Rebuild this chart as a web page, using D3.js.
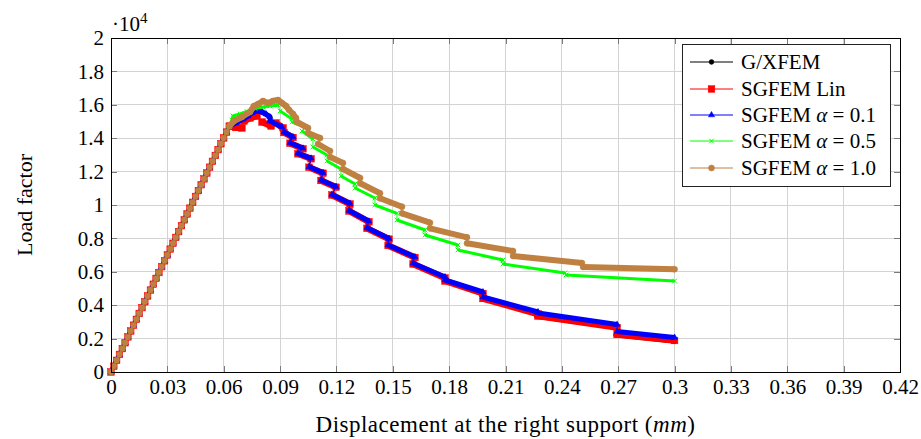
<!DOCTYPE html>
<html><head><meta charset="utf-8">
<script src="https://cdn.jsdelivr.net/npm/d3@7"></script>
<style>
body{margin:0;background:#fff}
text{font-family:"Liberation Serif","Times New Roman",serif;fill:#000}
</style>
</head><body>
<svg id="chart" width="921" height="439"></svg>
<script>
// ---------- data ----------
const xTicks = [0,0.03,0.06,0.09,0.12,0.15,0.18,0.21,0.24,0.27,0.3,0.33,0.36,0.39,0.42];
const xTickLabels = ["0","0.03","0.06","0.09","0.12","0.15","0.18","0.21","0.24","0.27","0.3","0.33","0.36","0.39","0.42"];
const yTicks = [0,2000,4000,6000,8000,10000,12000,14000,16000,18000,20000];
const yTickLabels = ["0","0.2","0.4","0.6","0.8","1","1.2","1.4","1.6","1.8","2"];
const seriesNames = ["G/XFEM","SGFEM Lin","SGFEM α = 0.1","SGFEM α = 0.5","SGFEM α = 1.0"];

// shared elastic branch (displacement mm, load)
const elastic = [[0,0],[0.0015,350],[0.003,701],[0.0045,1051],[0.006,1402],[0.0075,1752],[0.009,2102],
 [0.0105,2453],[0.012,2803],[0.0135,3154],[0.015,3504],[0.0165,3854],[0.018,4205],[0.0195,4555],
 [0.021,4906],[0.0225,5256],[0.024,5606],[0.0255,5957],[0.027,6307],[0.0285,6658],[0.03,7008],
 [0.0315,7358],[0.033,7709],[0.0345,8059],[0.036,8410],[0.0375,8760],[0.039,9110],[0.0405,9461],
 [0.042,9811],[0.0435,10162],[0.045,10512],[0.0465,10862],[0.048,11213],[0.0495,11563],[0.051,11914],
 [0.0525,12264],[0.054,12614],[0.0555,12965],[0.057,13315],[0.0585,13666],[0.06,14016],[0.0615,14366],[0.063,14717]];

// softening branches: lists of dense marker runs (segments)
const gxfem = [
 [[0.063,14717],[0.0665,14950],[0.0703,15180],[0.0740,15450],[0.0772,15689],[0.0804,15570],[0.0846,15270]],
 [[0.0846,15030],[0.0910,14671]],
 [[0.0921,14371],[0.0969,14072]],
 [[0.0953,13731],[0.1022,13395]],
 [[0.0995,13096],[0.1065,12796]],
 [[0.1054,12293],[0.1129,11934]],
 [[0.1118,11497],[0.1198,11096]],
 [[0.1176,10600],[0.1272,10060]],
 [[0.1267,9640],[0.1373,8990]],
 [[0.1363,8600],[0.1480,7950]],
 [[0.1475,7570],[0.1618,6850]],
 [[0.1608,6467],[0.1778,5629]],
 [[0.1778,5449],[0.1980,4701]],
 [[0.1980,4401],[0.2273,3473]],
 [[0.2268,3323],[0.2690,2665]],
 [[0.2688,2216],[0.300,1840]]
];
const sgfemLin = [
 [[0.063,14717],[0.0665,14641],[0.0697,14611]],
 [[0.0708,15030],[0.0740,15210],[0.0777,15329]],
 [[0.0804,14970],[0.0852,14730]],
 [[0.0878,14910],[0.0916,14611]],
 [[0.0921,14340],[0.0969,14040]],
 [[0.0953,13700],[0.1022,13365]],
 [[0.0995,13066],[0.1065,12766]],
 [[0.1054,12263],[0.1129,11904]],
 [[0.1118,11467],[0.1198,11066]],
 [[0.1176,10600],[0.1272,10060]],
 [[0.1267,9640],[0.1373,8994]],
 [[0.1363,8605],[0.1480,7958]],
 [[0.1475,7575],[0.1618,6856]],
 [[0.1608,6467],[0.1778,5629]],
 [[0.1778,5449],[0.1980,4701]],
 [[0.1980,4401],[0.2273,3473]],
 [[0.2273,3353],[0.2694,2665]],
 [[0.2694,2246],[0.300,1886]]
];
const sgfem01 = [
 [[0.063,14717],[0.0665,14910],[0.0703,15150],[0.0729,15329],[0.0751,15509],[0.0777,15629],[0.0804,15569],[0.0825,15449],[0.0846,15269]],
 [[0.0846,15030],[0.0910,14671]],
 [[0.0921,14371],[0.0969,14072]],
 [[0.0953,13731],[0.1022,13395]],
 [[0.0995,13096],[0.1065,12796]],
 [[0.1054,12293],[0.1129,11934]],
 [[0.1118,11497],[0.1198,11096]],
 [[0.1176,10629],[0.1272,10090]],
 [[0.1267,9671],[0.1373,9024]],
 [[0.1363,8635],[0.1480,7988]],
 [[0.1475,7605],[0.1618,6886]],
 [[0.1608,6509],[0.1778,5689]],
 [[0.1778,5509],[0.1980,4790]],
 [[0.1980,4491],[0.2273,3593]],
 [[0.2273,3533],[0.2694,2844]],
 [[0.2694,2425],[0.300,2066]]
];
const sgfem05 = [
 [[0.063,14717],[0.0644,15090],[0.0649,15329],[0.0687,15449],[0.0724,15600],[0.0767,15780],[0.0809,15870],[0.0846,15930],[0.0889,15988]],
 [[0.0900,15629],[0.0964,15150]],
 [[0.0964,14970],[0.1033,14671]],
 [[0.1017,14431],[0.1075,13952]],
 [[0.1075,13473],[0.1150,12994]],
 [[0.1150,12635],[0.1224,12156]],
 [[0.1224,11736],[0.1299,11257]],
 [[0.1299,11018],[0.1405,10419]],
 [[0.1405,10000],[0.1522,9503]],
 [[0.1522,9102],[0.1672,8503]],
 [[0.1672,8204],[0.1847,7605]],
 [[0.1847,7305],[0.2087,6707]],
 [[0.2087,6467],[0.2417,5928]],
 [[0.2422,5808],[0.300,5449]]
];
const sgfem10 = [
 [[0.063,14717],[0.0655,15030],[0.0697,15269],[0.0740,15569],[0.0761,15928],[0.0783,16048],[0.0809,16227],[0.0836,16108],[0.0862,16227],[0.0889,16287],[0.0910,16108],[0.0932,15928],[0.0948,15689],[0.0969,15449],[0.0985,15210]],
 [[0.0990,14970],[0.1049,14611]],
 [[0.1049,14311],[0.1113,14012]],
 [[0.1102,13653],[0.1166,13233]],
 [[0.1166,12874],[0.1235,12515]],
 [[0.1235,12156],[0.1326,11617]],
 [[0.1326,11300],[0.1432,10701]],
 [[0.1432,10401],[0.1549,9898]],
 [[0.1549,9503],[0.1698,8940]],
 [[0.1698,8605],[0.1895,8066]],
 [[0.1895,7707],[0.2140,7245]],
 [[0.2140,6946],[0.2507,6527]],
 [[0.2513,6287],[0.300,6150]]
];

// ---------- layout / style ----------
const M = {left:111, right:900, top:38, bottom:372};
const FS = 21;
const styles = [
 {color:"#000000", marker:"circle", size:2.4, band:4.5},
 {color:"#ff0000", marker:"square", size:3.3, band:6.5},
 {color:"#0000ff", marker:"triangle", size:3.6, band:5},
 {color:"#00ff00", marker:"cross", size:2.3, band:3},
 {color:"#bf8040", marker:"circle", size:3, band:6}
];
const allSeries = [gxfem, sgfemLin, sgfem01, sgfem05, sgfem10];

const svg = d3.select("#chart");
const x = d3.scaleLinear().domain([0,0.42]).range([M.left, M.right]);
const y = d3.scaleLinear().domain([0,20000]).range([M.bottom, M.top]);

// grid
const grid = svg.append("g").attr("shape-rendering","crispEdges");
grid.selectAll("line.gx").data(xTicks).enter().append("line")
 .attr("x1",d=>x(d)).attr("x2",d=>x(d)).attr("y1",M.top).attr("y2",M.bottom)
 .attr("stroke","#d3d3d3").attr("stroke-width",1);
grid.selectAll("line.gy").data(yTicks).enter().append("line")
 .attr("y1",d=>y(d)).attr("y2",d=>y(d)).attr("x1",M.left).attr("x2",M.right)
 .attr("stroke","#d3d3d3").attr("stroke-width",1);

// axes with inward ticks on all sides
const tickLen = 6;
const axB = d3.axisBottom(x).tickValues(xTicks).tickSize(-tickLen).tickFormat((d,i)=>xTickLabels[i]).tickPadding(7);
const axT = d3.axisTop(x).tickValues(xTicks).tickSize(-tickLen).tickFormat("");
const axL = d3.axisLeft(y).tickValues(yTicks).tickSize(-tickLen).tickFormat((d,i)=>yTickLabels[i]).tickPadding(7);
const axR = d3.axisRight(y).tickValues(yTicks).tickSize(-tickLen).tickFormat("");
function styleAxis(g){
  g.attr("font-family","Liberation Serif, serif").attr("font-size",FS);
  g.select(".domain").remove();
  g.selectAll(".tick line").attr("stroke","#7a7a7a").attr("shape-rendering","crispEdges");
  g.selectAll(".tick text").attr("font-size",FS).attr("fill","#000");
}
svg.append("g").attr("transform",`translate(0,${M.bottom})`).call(axB).call(styleAxis);
svg.append("g").attr("transform",`translate(0,${M.top})`).call(axT).call(styleAxis);
svg.append("g").attr("transform",`translate(${M.left},0)`).call(axL).call(styleAxis);
svg.append("g").attr("transform",`translate(${M.right},0)`).call(axR).call(styleAxis);

// plot
const line = d3.line().x(d=>x(d[0])).y(d=>y(d[1]));
function drawMarker(g, st, px, py){
  const s = st.size;
  if(st.marker==="circle"){
    g.append("circle").attr("cx",px).attr("cy",py).attr("r",s).attr("fill",st.color).attr("stroke",st.color).attr("stroke-width",0.5);
  } else if(st.marker==="square"){
    g.append("rect").attr("x",px-s).attr("y",py-s).attr("width",2*s).attr("height",2*s).attr("fill",st.color).attr("stroke",st.color).attr("stroke-width",0.5);
  } else if(st.marker==="triangle"){
    g.append("path").attr("d",`M${px},${py-s}L${px+s*0.866},${py+s*0.5}L${px-s*0.866},${py+s*0.5}Z`).attr("fill",st.color).attr("stroke",st.color).attr("stroke-width",0.5);
  } else {
    g.append("path").attr("d",`M${px-s},${py-s}L${px+s},${py+s}M${px-s},${py+s}L${px+s},${py-s}`).attr("stroke",st.color).attr("stroke-width",1).attr("fill","none");
  }
}
const plot = svg.append("g");
allSeries.forEach((segs,i)=>{
  const st = styles[i];
  const g = plot.append("g");
  const all = elastic.concat(...segs);
  g.append("path").attr("d",line(all)).attr("fill","none").attr("stroke",st.color).attr("stroke-width",0.9);
  segs.forEach(seg=>{
    g.append("path").attr("d",line(seg)).attr("fill","none").attr("stroke",st.color)
     .attr("stroke-width",st.band).attr("stroke-linejoin","round");
  });
  all.forEach(p=>drawMarker(g, st, x(p[0]), y(p[1])));
});

// frame
svg.append("rect").attr("x",M.left).attr("y",M.top).attr("width",M.right-M.left).attr("height",M.bottom-M.top)
 .attr("fill","none").attr("stroke","#000").attr("stroke-width",1).attr("shape-rendering","crispEdges");

// scale label
const sc = svg.append("text").attr("x",M.left+1).attr("y",31).attr("font-size",FS);
sc.append("tspan").text("·10");
sc.append("tspan").attr("font-size",15).attr("dy",-8).text("4");

// axis labels
const xl = svg.append("text").attr("x",(M.left+M.right)/2).attr("y",432).attr("text-anchor","middle").attr("font-size",23).attr("letter-spacing",0.5);
xl.append("tspan").text("Displacement at the right support (");
xl.append("tspan").attr("font-style","italic").text("mm");
xl.append("tspan").text(")");
svg.append("text").attr("transform",`translate(32,${(M.top+M.bottom)/2}) rotate(-90)`).attr("text-anchor","middle")
 .attr("font-size",22).text("Load factor");

// legend
const lg = svg.append("g");
lg.append("rect").attr("x",682.5).attr("y",44.5).attr("width",208).attr("height",142)
 .attr("fill","#fff").attr("stroke","#222").attr("stroke-width",1);
const legY = [62,89,115,141,168];
seriesNames.forEach((name,i)=>{
  const st = styles[i];
  const yy = legY[i];
  lg.append("line").attr("x1",690).attr("x2",733).attr("y1",yy).attr("y2",yy).attr("stroke",st.color).attr("stroke-width",1);
  drawMarker(lg, st, 711.5, yy);
  const t = lg.append("text").attr("x",741).attr("y",yy+7).attr("font-size",FS);
  const m = name.match(/^(SGFEM )α( = .*)$/);
  if(m){
    t.append("tspan").text(m[1]);
    t.append("tspan").attr("font-style","italic").text("α");
    t.append("tspan").text(m[2]);
  } else t.text(name);
});
</script>
</body></html>
